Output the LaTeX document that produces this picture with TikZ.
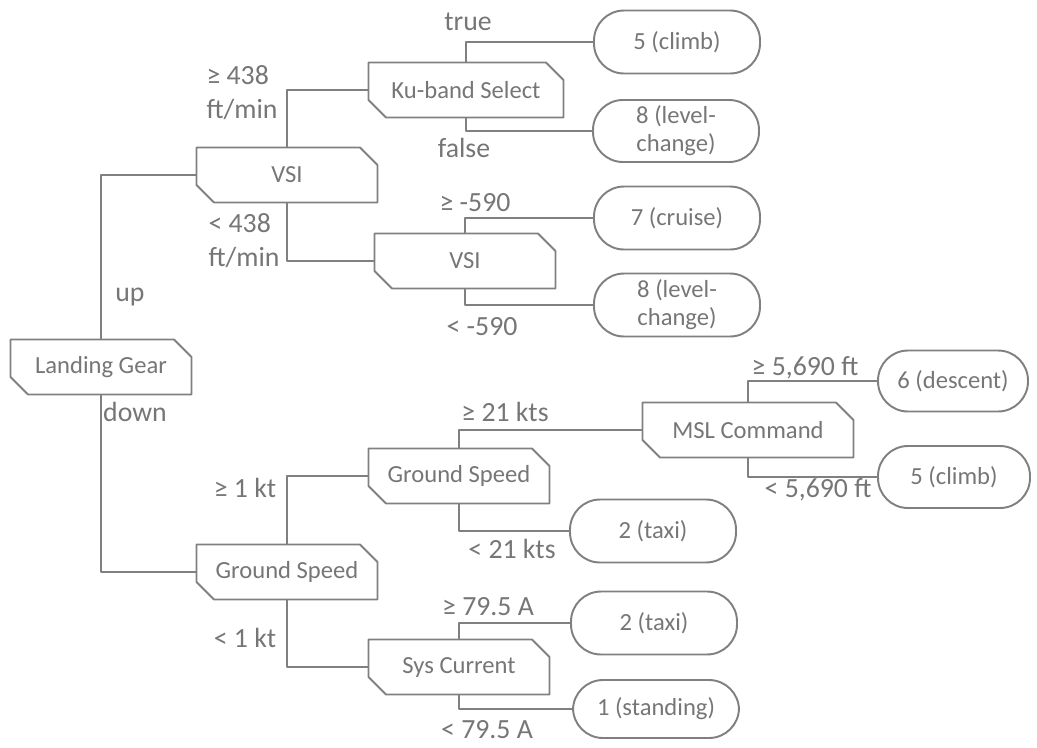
\documentclass[tikz,border=0pt]{standalone}
\usepackage{fontspec}
\setmainfont{Carlito}
\usetikzlibrary{shapes.misc}
\definecolor{lineGray}{RGB}{128,128,128}
\definecolor{textGray}{RGB}{118,118,118}
\tikzset{
	split/.style={draw=lineGray,fill=white,chamfered rectangle,
		chamfered rectangle corners={north east,south west},
		chamfered rectangle xsep=5pt,chamfered rectangle ysep=5pt,
		minimum width=3.62cm,minimum height=1.1cm,inner sep=2pt,text=textGray},
	leaf/.style={draw=lineGray,rounded corners=0.6cm,minimum width=3.32cm,
		minimum height=1.26cm,align=center,text=textGray},
	cond/.style={text=textGray,align=left,inner sep=0pt,
		font=\fontsize{15.8}{19.3}\selectfont},
}
\begin{document}
\begin{tikzpicture}[x=0.02cm,y=-0.02cm,line width=1.1pt,line join=round,
		font=\fontsize{14}{16}\selectfont]
	\useasboundingbox (0,0) rectangle (1037,747);
	
	% decision boxes
	\node[split] (gear) at (101,367) {Landing Gear};
	\node[split] (vsiA) at (287,175) {VSI};
	\node[split,minimum width=3.9cm] (ku) at (466,90) {Ku-band Select};
	\node[split] (vsiB) at (465,261) {VSI};
	\node[split] (gsA) at (287,572) {Ground Speed};
	\node[split] (gsB) at (459,476) {Ground Speed};
	\node[split,minimum width=4.22cm] (msl) at (748,430) {MSL Command};
	\node[split] (sys) at (459,667) {Sys Current};
	
	% outcomes
	\node[leaf] (climbA) at (677,42) {5 (climb)};
	\node[leaf,minimum height=1.24cm] (levelA) at (676,131) {8 (level-\\change)};
	\node[leaf] (cruise) at (677,218) {7 (cruise)};
	\node[leaf] (levelB) at (677,305) {8 (level-\\change)};
	\node[leaf,minimum width=3cm,minimum height=1.22cm] (descent) at (953,381) {6 (descent)};
	\node[leaf,minimum width=3.04cm,minimum height=1.24cm] (climbB) at (954,477) {5 (climb)};
	\node[leaf] (taxiA) at (653,531) {2 (taxi)};
	\node[leaf] (taxiB) at (654,623) {2 (taxi)};
	\node[leaf,minimum height=1.16cm] (standing) at (656,709) {1 (standing)};
	
	% branches
	\draw[lineGray] (gear.north) |- (vsiA.west);
	\draw[lineGray] (gear.south) |- (gsA.west);
	\draw[lineGray] (vsiA.north) |- (ku.west);
	\draw[lineGray] (vsiA.south) |- (vsiB.west);
	\draw[lineGray] (ku.north) |- (climbA.west);
	\draw[lineGray] (ku.south) |- (levelA.west);
	\draw[lineGray] (vsiB.north) |- (cruise.west);
	\draw[lineGray] (vsiB.south) |- (levelB.west);
	\draw[lineGray] (gsA.north) |- (gsB.west);
	\draw[lineGray] (gsA.south) |- (sys.west);
	\draw[lineGray] (gsB.north) |- (msl.west);
	\draw[lineGray] (gsB.south) |- (taxiA.west);
	\draw[lineGray] (msl.north) |- (descent.west);
	\draw[lineGray] (msl.south) |- (climbB.west);
	\draw[lineGray] (sys.north) |- (taxiB.west);
	\draw[lineGray] (sys.south) |- (standing.west);
	
	% branch conditions
	\node[cond] (up) at (130,297) {up};
	\node[cond] (down) at (135,412) {down};
	\node[cond] (vsiHi) at (242,93) {≥ 438\\ft/min};
	\node[cond] (vsiLo) at (244,241) {< 438\\ft/min};
	\node[cond] (kuT) at (468,22) {true};
	\node[cond] (kuF) at (464,148) {false};
	\node[cond] (vsHi) at (475,203) {≥ -590};
	\node[cond] (vsLo) at (482,327) {< -590};
	\node[cond] (gsHi) at (245,488) {≥ 1 kt};
	\node[cond] (gsLo) at (245,638) {< 1 kt};
	\node[cond] (spdHi) at (505,412) {≥ 21 kts};
	\node[cond] (spdLo) at (512,549) {< 21 kts};
	\node[cond] (altHi) at (805,368) {≥ 5,690 ft};
	\node[cond] (altLo) at (818,490) {< 5,690 ft};
	\node[cond] (ampHi) at (488,607) {≥ 79.5 A};
	\node[cond] (ampLo) at (487,730) {< 79.5 A};
\end{tikzpicture}
\end{document}
